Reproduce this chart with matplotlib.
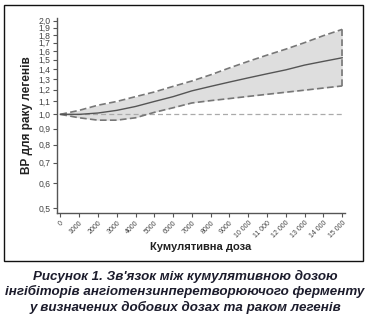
import matplotlib
matplotlib.use("Agg")
import matplotlib.pyplot as plt
from matplotlib.ticker import FixedLocator, NullLocator, FixedFormatter
from matplotlib.patches import Rectangle

plt.rcParams['font.family'] = ['Liberation Sans', 'DejaVu Sans']

dose = [0, 1000, 2000, 3000, 4000, 5000, 6000, 7000, 8000, 9000, 10000, 11000, 12000, 13000, 14000, 15000]
hr = [1.0, 1.0, 1.01, 1.03, 1.06, 1.10, 1.14, 1.19, 1.23, 1.27, 1.31, 1.35, 1.39, 1.44, 1.48, 1.52]
upper = [1.0, 1.03, 1.07, 1.10, 1.14, 1.18, 1.23, 1.28, 1.34, 1.41, 1.48, 1.55, 1.62, 1.70, 1.79, 1.875]
lower = [1.0, 0.975, 0.958, 0.958, 0.975, 1.015, 1.05, 1.088, 1.107, 1.124, 1.142, 1.16, 1.178, 1.196, 1.215, 1.234]

yticks = [0.5, 0.6, 0.7, 0.8, 0.9, 1.0, 1.1, 1.2, 1.3, 1.4, 1.5, 1.6, 1.7, 1.8, 1.9, 2.0]
ytick_labels = ["0,5", "0,6", "0,7", "0,8", "0,9", "1,0", "1,1", "1,2", "1,3", "1,4", "1,5", "1,6", "1,7", "1,8", "1,9", "2,0"]
xticks = dose
xtick_labels = ["0", "1000", "2000", "3000", "4000", "5000", "6000", "7000", "8000", "9000",
                "10 000", "11 000", "12 000", "13 000", "14 000", "15 000"]

fig = plt.figure(figsize=(3.70, 3.22), dpi=100)
ax = fig.add_axes([57/370, 1-213/322, (345-57)/370, (213-18)/322])

ax.fill_between(dose, lower, upper, color='#dedede', lw=0, zorder=1)
ax.plot([dose[0], dose[-1]], [1.0, 1.0], ls=(0, (4, 2.5)), color='#aaaaaa', lw=0.9, zorder=2)
ax.plot(dose, upper, ls=(0, (4, 2)), color='#777777', lw=1.2, zorder=3)
ax.plot(dose, lower, ls=(0, (4, 2)), color='#777777', lw=1.2, zorder=3)
ax.plot([dose[-1], dose[-1]], [lower[-1], upper[-1]], ls=(0, (4, 2)), color='#777777', lw=1.2, zorder=3)
ax.plot(dose, hr, color='#555555', lw=1.0, zorder=4)

ax.set_yscale('log')
ax.set_ylim(0.482, 2.04)
ax.set_xlim(-180, 15150)
ax.yaxis.set_major_locator(FixedLocator(yticks))
ax.yaxis.set_major_formatter(FixedFormatter(ytick_labels))
ax.yaxis.set_minor_locator(NullLocator())
ax.set_xticks(xticks)
ax.set_xticklabels(xtick_labels, rotation=45, ha='right', va='top', rotation_mode='anchor')

for s in ['top', 'right']:
    ax.spines[s].set_visible(False)
for s in ['left', 'bottom']:
    ax.spines[s].set_color('#555555')
    ax.spines[s].set_linewidth(1.0)
ax.tick_params(axis='both', direction='out', length=3, width=0.8, color='#555555', labelcolor='#444444', pad=1.5)
ax.tick_params(axis='y', labelsize=6.2)
ax.tick_params(axis='x', labelsize=5.0)

ax.set_xlabel("Кумулятивна доза", fontsize=8, fontweight='bold', color='#222222', labelpad=2)
ax.set_ylabel("ВР для раку легенів", fontsize=8.5, fontweight='bold', color='#222222', labelpad=4)

fig.patches.append(Rectangle((4/370, 1-261/322), 359/370, 256/322, transform=fig.transFigure,
                             fill=False, edgecolor='#111111', lw=1.0))

caption = ["Рисунок 1. Зв'язок між кумулятивною дозою",
           "інгібіторів ангіотензинперетворюючого ферменту",
           "у визначених добових дозах та раком легенів"]
for i, line in enumerate(caption):
    fig.text(0.5, 1-(276+15.8*i)/322, line, ha='center', va='center', fontsize=9.6,
             fontweight='bold', fontstyle='italic', color='#1c1c2c')

fig.savefig("out.png", dpi=100)
